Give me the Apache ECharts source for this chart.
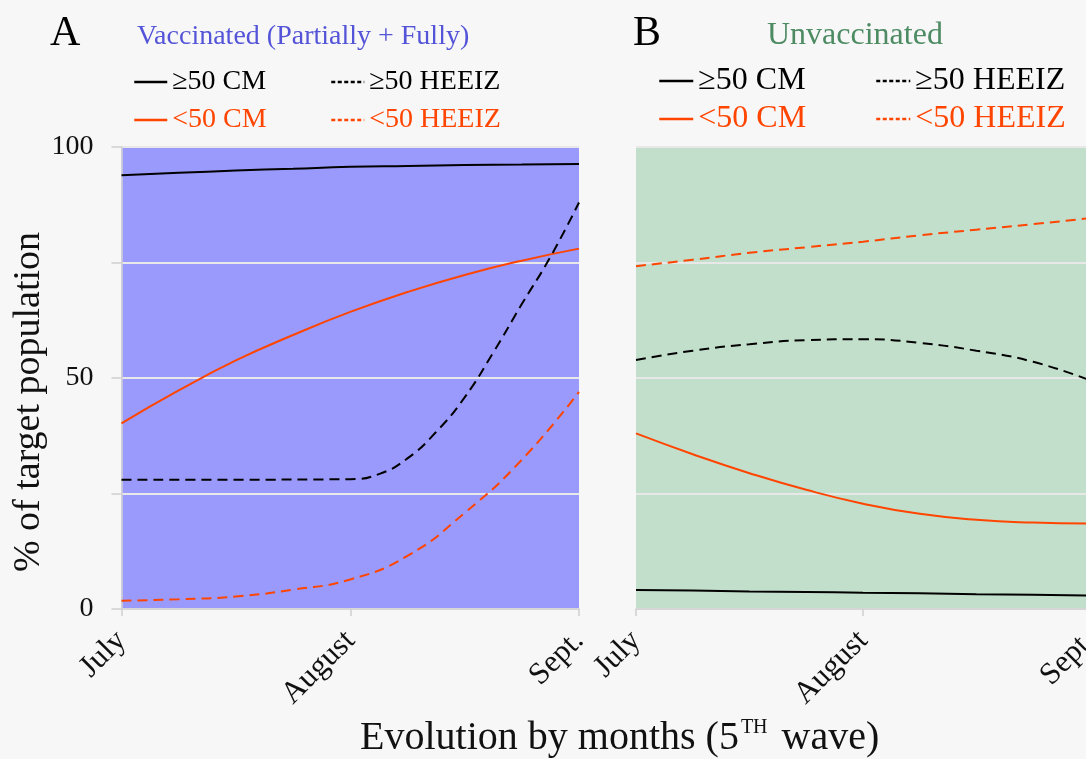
<!DOCTYPE html>
<html>
<head>
<meta charset="utf-8">
<script src="https://cdn.jsdelivr.net/npm/echarts@6.0.0/dist/echarts.min.js"></script>
<style>
  html, body { margin: 0; background: #f7f7f7; }
  #main { width: 1086px; height: 759px; }
</style>
</head>
<body>
<div id="main"></div>
<script>
// x positions: 0 = July, 1 = August, 2 = Sept.
var months = ['July', 'August', 'Sept.'];
var xs = [0, 0.25, 0.5, 0.75, 1, 1.25, 1.5, 1.75, 2];
var xsKnee = [0, 0.5, 1, 1.125, 1.25, 1.375, 1.5, 1.625, 1.75, 1.875, 2];
var yTickLabels = [0, 50, 100];

// A - vaccinated (partially + fully)
var vaxCM50up = [93.9, 94.4, 94.9, 95.3, 95.7, 95.9, 96.1, 96.2, 96.3];
var vaxCM50down = [40.2, 47.3, 53.8, 59.3, 64.3, 68.6, 72.3, 75.4, 78.0];
var vaxHEEIZ50up = [28.0, 28.0, 28.1, 29.2, 32.6, 38.3, 45.8, 55.5, 66.0, 76.2, 88.0]; // on xsKnee
var vaxHEEIZ50down = [1.8, 2.1, 2.7, 4.2, 6.4, 11.5, 20.8, 32.3, 47.0];

// B - unvaccinated
var unvaxCM50up = [4.1, 4.0, 3.8, 3.7, 3.5, 3.4, 3.2, 3.1, 2.9];
var unvaxCM50down = [38.0, 33.5, 29.4, 25.8, 22.8, 20.6, 19.3, 18.7, 18.5];
var unvaxHEEIZ50up = [53.9, 55.9, 57.3, 58.2, 58.4, 57.6, 55.9, 53.5, 49.5];
var unvaxHEEIZ50down = [74.2, 75.6, 77.1, 78.3, 79.5, 80.9, 82.1, 83.3, 84.6];

var serif = 'Liberation Serif';
var orange = '#ff4500';
var dash = [10, 6];

function pairs(vals, xv) {
  xv = xv || xs;
  return vals.map(function (v, i) { return [xv[i], v]; });
}

function line(name, data, idx, color, dashed) {
  return {
    name: name,
    type: 'line',
    xAxisIndex: idx,
    yAxisIndex: idx,
    data: data,
    smooth: true,
    symbol: 'none',
    silent: true,
    itemStyle: { color: color },
    lineStyle: { color: color, width: 2, type: dashed ? dash : 'solid' }
  };
}

function legendItem(left, top, name, color, dashed, size, w) {
  return {
    left: left, top: top,
    selectedMode: false,
    itemWidth: w, itemHeight: 14,
    itemStyle: { opacity: 0 },
    data: [{
      name: name,
      itemStyle: { opacity: 0 },
      lineStyle: { color: color, width: 2.5, type: dashed ? [4, 2.5] : 'solid' },
      textStyle: { color: color }
    }],
    textStyle: { fontSize: size, fontFamily: serif, color: color }
  };
}

function xAx(idx) {
  return {
    type: 'value', gridIndex: idx, min: 0, max: 2, interval: 1,
    axisLine: { show: true, lineStyle: { color: '#d0d0d0', width: 1.5 } },
    axisTick: { show: true, length: 7, lineStyle: { color: '#d0d0d0', width: 1.5 } },
    axisLabel: {
      rotate: 45, margin: 27, fontSize: 31, fontFamily: serif, color: '#111',
      formatter: function (v) { return months[v]; }
    },
    splitLine: { show: false }
  };
}

function yAx(idx) {
  var ax = {
    type: 'value', gridIndex: idx, min: 0, max: 100, interval: 25,
    axisLine: { show: idx === 0, lineStyle: { color: '#d0d0d0', width: 1.5 } },
    axisTick: { show: idx === 0, length: 10, lineStyle: { color: '#d0d0d0', width: 1.5 } },
    axisLabel: {
      show: idx === 0, margin: 28, fontSize: 28, fontFamily: serif, color: '#111',
      padding: [6, 0, 0, 0],
      formatter: function (v) { return yTickLabels.indexOf(v) >= 0 ? v : ''; }
    },
    splitLine: { show: true, lineStyle: { color: '#e8e8e8', width: 2 } }
  };
  if (idx === 0) {
    ax.name = '% of target population';
    ax.nameLocation = 'middle';
    ax.nameGap = 72;
    ax.nameTextStyle = { fontSize: 38, fontFamily: serif, color: '#111', padding: [0, 48, 0, 0] };
  }
  return ax;
}

var myChart = echarts.init(document.getElementById('main'));
var option = {
  backgroundColor: '#f7f7f7',
  animation: false,
  title: [
    { text: 'A', left: 45, top: 8, textStyle: { fontSize: 42, fontWeight: 'normal', fontFamily: serif, color: '#000' } },
    { text: 'Vaccinated (Partially + Fully)', left: 132, top: 18, textStyle: { fontSize: 28, fontWeight: 'normal', fontFamily: serif, color: '#5454d8' } },
    { text: 'B', left: 628, top: 8, textStyle: { fontSize: 42, fontWeight: 'normal', fontFamily: serif, color: '#000' } },
    { text: 'Unvaccinated', left: 762, top: 15, textStyle: { fontSize: 32, fontWeight: 'normal', fontFamily: serif, color: '#4d8b63' } },
    {
      text: '{a|Evolution by months (5}{s|TH}{a| wave)}',
      left: 355, top: 713,
      textStyle: {
        rich: {
          a: { fontSize: 40, fontWeight: 'normal', fontFamily: serif, color: '#111' },
          s: { fontSize: 20, fontWeight: 'normal', fontFamily: serif, color: '#111', verticalAlign: 'top', padding: [0, 4, 0, 2] }
        }
      }
    }
  ],
  legend: [
    legendItem(128, 63, '≥50 CM', '#000', false, 28, 33),
    legendItem(325, 63, '≥50 HEEIZ', '#000', true, 28, 33),
    legendItem(128, 101, '<50 CM', orange, false, 28, 33),
    legendItem(325, 101, '<50 HEEIZ', orange, true, 28, 33),
    legendItem(653, 60, '≥50 CM', '#000', false, 32, 34),
    legendItem(870, 60, '≥50 HEEIZ', '#000', true, 32, 34),
    legendItem(653, 98, '<50 CM', orange, false, 32, 34),
    legendItem(870, 98, '<50 HEEIZ', orange, true, 32, 34)
  ],
  grid: [
    { left: 121.5, top: 147, width: 457.5, height: 462, show: true, backgroundColor: '#9a9afc', borderWidth: 0, outerBoundsMode: 'none' },
    { left: 636, top: 147, width: 454, height: 462, show: true, backgroundColor: '#c2dfcb', borderWidth: 0, outerBoundsMode: 'none' }
  ],
  xAxis: [xAx(0), xAx(1)],
  yAxis: [yAx(0), yAx(1)],
  series: [
    line('≥50 CM', pairs(vaxCM50up), 0, '#000', false),
    line('<50 CM', pairs(vaxCM50down), 0, orange, false),
    line('≥50 HEEIZ', pairs(vaxHEEIZ50up, xsKnee), 0, '#000', true),
    line('<50 HEEIZ', pairs(vaxHEEIZ50down), 0, orange, true),
    line('≥50 CM', pairs(unvaxCM50up), 1, '#000', false),
    line('<50 CM', pairs(unvaxCM50down), 1, orange, false),
    line('≥50 HEEIZ', pairs(unvaxHEEIZ50up), 1, '#000', true),
    line('<50 HEEIZ', pairs(unvaxHEEIZ50down), 1, orange, true)
  ]
};
myChart.setOption(option);
</script>
</body>
</html>
